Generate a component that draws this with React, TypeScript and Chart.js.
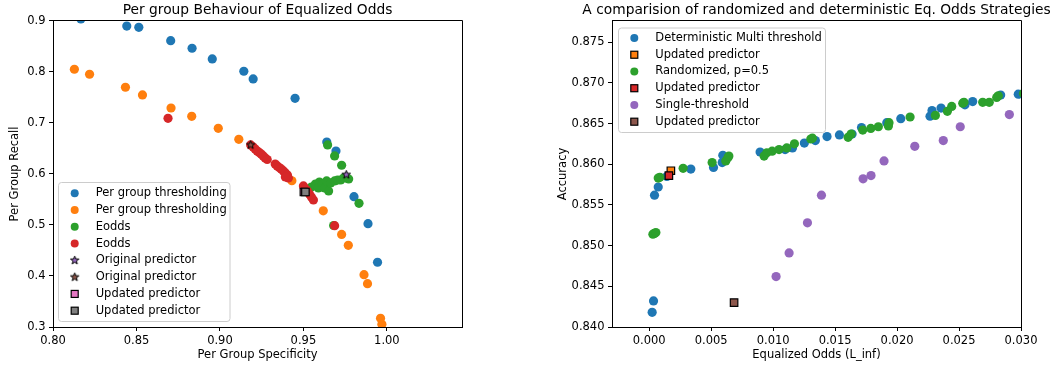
import React, { useEffect, useRef } from "react";
import { Chart, registerables } from "chart.js";

Chart.register(...registerables);

const FONT = "'DejaVu Sans', 'Liberation Sans', sans-serif";
const FS = 11.5;
const TITLE_FS = 13.8;

// ---------------- Left chart data ----------------
const leftTitle = "Per group Behaviour of Equalized Odds";
const leftXLabel = "Per Group Specificity";
const leftYLabel = "Per Group Recall";
const leftXTicks = [0.8, 0.85, 0.9, 0.95, 1.0];
const leftYTicks = [0.3, 0.4, 0.5, 0.6, 0.7, 0.8, 0.9];
const leftLabels = [
  "Per group thresholding",
  "Per group thresholding",
  "Eodds",
  "Eodds",
  "Original predictor",
  "Original predictor",
  "Updated predictor",
  "Updated predictor",
];

const thresh0Spec = [0.8167, 0.8442, 0.8514, 0.8705, 0.8833, 0.8954, 0.9143, 0.9199, 0.945, 0.964, 0.9695, 0.9803, 0.9887, 0.9944];
const thresh0Recall = [0.904, 0.89, 0.8876, 0.8614, 0.8465, 0.8255, 0.8014, 0.7863, 0.7484, 0.6627, 0.6451, 0.5555, 0.5025, 0.4269];

const thresh1Spec = [0.8128, 0.8219, 0.8434, 0.8536, 0.8707, 0.8831, 0.899, 0.9113, 0.9431, 0.9619, 0.9729, 0.9769, 0.9863, 0.9884, 0.9962, 0.997];
const thresh1Recall = [0.8053, 0.7955, 0.77, 0.7549, 0.7294, 0.7131, 0.6896, 0.668, 0.5867, 0.5278, 0.4814, 0.4602, 0.4025, 0.3849, 0.3171, 0.3053];

const eodds0Spec = [0.9645, 0.9687, 0.9729, 0.9833, 0.9681, 0.953, 0.9548, 0.9572, 0.959, 0.9596, 0.9614, 0.9627, 0.9639, 0.9651, 0.9663, 0.9687, 0.9705, 0.9723, 0.9741, 0.9759, 0.9771];
const eodds0Recall = [0.6569, 0.6353, 0.6171, 0.5425, 0.499, 0.5706, 0.5745, 0.5804, 0.5725, 0.5843, 0.5804, 0.5725, 0.5863, 0.5667, 0.5824, 0.5863, 0.5882, 0.5882, 0.5922, 0.5922, 0.5902];

const eodds1Spec = [0.8689, 0.9687, 0.9184, 0.9199, 0.9211, 0.9223, 0.9235, 0.9247, 0.9259, 0.9271, 0.9283, 0.9331, 0.9343, 0.9355, 0.9367, 0.938, 0.9392, 0.9404, 0.941, 0.9392, 0.95, 0.9512, 0.9524, 0.9536, 0.9548, 0.956];
const eodds1Recall = [0.7092, 0.4986, 0.6569, 0.6529, 0.649, 0.6451, 0.6422, 0.6392, 0.6353, 0.6314, 0.6284, 0.6196, 0.6157, 0.6127, 0.6098, 0.6059, 0.602, 0.598, 0.5922, 0.5941, 0.5765, 0.5706, 0.5667, 0.5608, 0.5549, 0.549];

const orig0Spec = [0.9757];
const orig0Recall = [0.5986];
const orig1Spec = [0.9184];
const orig1Recall = [0.6569];
const upd0Spec = [0.9503];
const upd0Recall = [0.5647];
const upd1Spec = [0.9512];
const upd1Recall = [0.5647];

// ---------------- Right chart data ----------------
const rightTitle = "A comparision of randomized and deterministic Eq. Odds Strategies";
const rightXLabel = "Equalized Odds (L_inf)";
const rightYLabel = "Accuracy";
const rightXTicks = [0.0, 0.005, 0.01, 0.015, 0.02, 0.025, 0.03];
const rightYTicks = [0.84, 0.845, 0.85, 0.855, 0.86, 0.865, 0.87, 0.875];
const rightLabels = [
  "Deterministic Multi threshold",
  "Updated predictor",
  "Randomized, p=0.5",
  "Updated predictor",
  "Single-threshold",
  "Updated predictor",
];

const detOdds = [0.00024, 0.00035, 0.00043, 0.00073, 0.00143, 0.00336, 0.00519, 0.00589, 0.00594, 0.00895, 0.01097, 0.01156, 0.01252, 0.01341, 0.01435, 0.01535, 0.01637, 0.01713, 0.01917, 0.0203, 0.02266, 0.02282, 0.02355, 0.02548, 0.0261, 0.02836, 0.02978];
const detAcc = [0.8418, 0.8432, 0.8562, 0.8572, 0.8585, 0.8594, 0.8596, 0.8602, 0.8611, 0.8615, 0.8618, 0.862, 0.8626, 0.8629, 0.8634, 0.8636, 0.8637, 0.8645, 0.8651, 0.8656, 0.8659, 0.8666, 0.8669, 0.8673, 0.8677, 0.8685, 0.8686];

const detUpdOdds = [0.00175];
const detUpdAcc = [0.8592];

const randOdds = [0.0003, 0.00043, 0.00054, 0.00073, 0.00086, 0.00274, 0.00508, 0.00618, 0.00635, 0.00643, 0.00927, 0.00949, 0.00992, 0.01048, 0.0111, 0.01172, 0.01304, 0.01317, 0.01605, 0.01629, 0.01723, 0.01788, 0.01849, 0.0193, 0.01935, 0.02105, 0.02309, 0.02406, 0.02441, 0.0253, 0.0254, 0.02691, 0.02744, 0.02804, 0.02817, 0.0302];
const randAcc = [0.8514, 0.8515, 0.8516, 0.8583, 0.8584, 0.8595, 0.8602, 0.8604, 0.8608, 0.861, 0.861, 0.8614, 0.8616, 0.8618, 0.862, 0.8625, 0.8631, 0.8632, 0.8633, 0.8637, 0.8642, 0.8644, 0.8646, 0.8647, 0.8651, 0.8658, 0.866, 0.8665, 0.8671, 0.8675, 0.8676, 0.8676, 0.8676, 0.8682, 0.8684, 0.8687];

const randUpdOdds = [0.00159];
const randUpdAcc = [0.8586];

const singleOdds = [0.01024, 0.01129, 0.01277, 0.0139, 0.01726, 0.0179, 0.01895, 0.02143, 0.02373, 0.0251, 0.02906];
const singleAcc = [0.8462, 0.8491, 0.8528, 0.8562, 0.8582, 0.8586, 0.8604, 0.8622, 0.8629, 0.8646, 0.8661];

const singleUpdOdds = [0.00685];
const singleUpdAcc = [0.843];

// ---------------- styling helpers ----------------
const C = {
  blue: "#1f77b4",
  orange: "#ff7f0e",
  green: "#2ca02c",
  red: "#d62728",
  purple: "#9467bd",
  brown: "#8c564b",
  pink: "#e377c2",
  gray: "#7f7f7f",
};

function makeStar(fill: string): HTMLCanvasElement {
  const c = document.createElement("canvas");
  c.width = 11;
  c.height = 11;
  const g = c.getContext("2d")!;
  const cx = 5.5, cy = 5.5, R = 4.4, r = 1.8;
  g.beginPath();
  for (let k = 0; k < 10; k++) {
    const rad = k % 2 === 0 ? R : r;
    const a = -Math.PI / 2 + (k * Math.PI) / 5;
    const px = cx + rad * Math.cos(a);
    const py = cy + rad * Math.sin(a);
    if (k === 0) g.moveTo(px, py);
    else g.lineTo(px, py);
  }
  g.closePath();
  g.fillStyle = fill;
  g.fill();
  g.lineWidth = 1;
  g.strokeStyle = "#000";
  g.stroke();
  return c;
}

const pts = (xs: number[], ys: number[]) => xs.map((x, i) => ({ x, y: ys[i] }));

function circleSet(label: string, xs: number[], ys: number[], color: string) {
  return {
    label,
    data: pts(xs, ys),
    pointStyle: "circle",
    pointRadius: 4.6,
    pointHoverRadius: 4.6,
    pointBackgroundColor: color,
    pointBorderWidth: 0,
    backgroundColor: color,
    borderWidth: 0,
    clip: 0,
  };
}

function squareSet(label: string, xs: number[], ys: number[], color: string) {
  return {
    label,
    data: pts(xs, ys),
    pointStyle: "rect",
    pointRadius: 5.3,
    pointHoverRadius: 5.3,
    pointBackgroundColor: color,
    pointBorderColor: "#000",
    pointBorderWidth: 1.2,
    backgroundColor: color,
    borderColor: "#000",
    clip: 0,
  };
}

function starSet(label: string, xs: number[], ys: number[], color: string, img: HTMLCanvasElement) {
  return {
    label,
    data: pts(xs, ys),
    pointStyle: img,
    pointRadius: 4,
    pointHoverRadius: 4,
    pointBackgroundColor: color,
    backgroundColor: color,
    clip: 0,
  };
}

function drawLegendMarker(ctx: CanvasRenderingContext2D, ds: any, x: number, y: number) {
  const st = ds.pointStyle;
  if (st && typeof st === "object") {
    ctx.drawImage(st, x - st.width / 2, y - st.height / 2);
    return;
  }
  if (st === "rect") {
    const s = 7;
    ctx.fillStyle = ds.pointBackgroundColor;
    ctx.fillRect(x - s / 2, y - s / 2, s, s);
    ctx.lineWidth = 1.2;
    ctx.strokeStyle = "#000";
    ctx.strokeRect(x - s / 2, y - s / 2, s, s);
    return;
  }
  ctx.beginPath();
  ctx.arc(x, y, 4, 0, Math.PI * 2);
  ctx.fillStyle = ds.pointBackgroundColor;
  ctx.fill();
}

const spinesPlugin = {
  id: "spines",
  afterDatasetsDraw(chart: any) {
    const { ctx, chartArea } = chart;
    const { left, right, top, bottom } = chartArea;
    ctx.save();
    ctx.strokeStyle = "#000";
    ctx.lineWidth = 1;
    const x0 = Math.round(left - 0.5) + 0.5;
    const x1 = Math.round(right - 0.5) + 0.5;
    const y0 = Math.round(top - 0.5) + 0.5;
    const y1 = Math.round(bottom - 0.5) + 0.5;
    ctx.beginPath();
    ctx.moveTo(x0, y0);
    ctx.lineTo(x1, y0);
    ctx.lineTo(x1, y1);
    ctx.lineTo(x0, y1);
    ctx.closePath();
    ctx.stroke();
    ctx.restore();
  },
};

const boxLegendPlugin = {
  id: "boxLegend",
  afterDatasetsDraw(chart: any, _args: any, opts: any) {
    if (!opts || opts.x === undefined) return;
    const ctx: CanvasRenderingContext2D = chart.ctx;
    ctx.save();
    const { x, y, w, h, r } = opts;
    ctx.beginPath();
    ctx.moveTo(x + r, y);
    ctx.lineTo(x + w - r, y);
    ctx.arcTo(x + w, y, x + w, y + r, r);
    ctx.lineTo(x + w, y + h - r);
    ctx.arcTo(x + w, y + h, x + w - r, y + h, r);
    ctx.lineTo(x + r, y + h);
    ctx.arcTo(x, y + h, x, y + h - r, r);
    ctx.lineTo(x, y + r);
    ctx.arcTo(x, y, x + r, y, r);
    ctx.closePath();
    ctx.fillStyle = "rgba(255,255,255,0.8)";
    ctx.fill();
    ctx.strokeStyle = "#cccccc";
    ctx.lineWidth = 1;
    ctx.stroke();
    ctx.font = `${FS}px ${FONT}`;
    ctx.textBaseline = "middle";
    ctx.textAlign = "left";
    chart.data.datasets.forEach((ds: any, i: number) => {
      const ry = opts.firstRow + i * opts.rowStep;
      drawLegendMarker(ctx, ds, opts.markerX, ry);
      ctx.fillStyle = "#000";
      ctx.fillText(ds.label, opts.textX, ry);
    });
    ctx.restore();
  },
};

function scales(o: {
  xMin: number; xMax: number; yMin: number; yMax: number;
  xTicks: number[]; yTicks: number[]; xDec: number; yDec: number;
  xLabel: string; yLabel: string; yWidth: number; yTitlePad: number; rightWidth: number;
}) {
  const tickFont = { size: FS, family: FONT };
  const grid = { drawOnChartArea: false, drawTicks: true, tickLength: 4, tickColor: "#000", color: "#000", lineWidth: 1 };
  const border = { display: true, color: "#000", width: 1 };
  return {
    x: {
      type: "linear" as const,
      min: o.xMin,
      max: o.xMax,
      afterBuildTicks: (a: any) => { a.ticks = o.xTicks.map((v) => ({ value: v })); },
      afterFit: (s: any) => { s.height = 41; },
      ticks: { callback: (v: any) => Number(v).toFixed(o.xDec), font: tickFont, color: "#000", padding: 3, maxRotation: 0, autoSkip: false },
      grid,
      border,
      title: { display: true, text: o.xLabel, font: tickFont, color: "#000", padding: { top: 0, bottom: 6.1 } },
    },
    y: {
      type: "linear" as const,
      min: o.yMin,
      max: o.yMax,
      afterBuildTicks: (a: any) => { a.ticks = o.yTicks.map((v) => ({ value: v })); },
      afterFit: (s: any) => { s.width = o.yWidth; },
      ticks: { callback: (v: any) => Number(v).toFixed(o.yDec), font: tickFont, color: "#000", padding: 3.5, autoSkip: false },
      grid,
      border,
      title: { display: true, text: o.yLabel, font: tickFont, color: "#000", padding: { top: o.yTitlePad, bottom: 0 } },
    },
    // invisible spacer on the right so the full-width title centres over the plot
    spacer: {
      type: "linear" as const,
      position: "right" as const,
      display: true,
      afterFit: (s: any) => { s.width = o.rightWidth; },
      ticks: { display: false },
      grid: { display: false },
      border: { display: false },
      title: { display: false },
    },
  };
}

function titleOpts(text: string) {
  return {
    display: true,
    text,
    color: "#000",
    font: { size: TITLE_FS, family: FONT, weight: "normal" as const },
    padding: { top: 2.5, bottom: 1.9 },
    align: "center" as const,
  };
}

export default function App() {
  const leftRef = useRef<HTMLCanvasElement>(null);
  const rightRef = useRef<HTMLCanvasElement>(null);

  useEffect(() => {
    Chart.defaults.font.family = FONT;
    const starPurple = makeStar(C.purple);
    const starBrown = makeStar(C.brown);

    const leftSets: any[] = [
      circleSet(leftLabels[0], thresh0Spec, thresh0Recall, C.blue),
      circleSet(leftLabels[1], thresh1Spec, thresh1Recall, C.orange),
      circleSet(leftLabels[2], eodds0Spec, eodds0Recall, C.green),
      circleSet(leftLabels[3], eodds1Spec, eodds1Recall, C.red),
      starSet(leftLabels[4], orig0Spec, orig0Recall, C.purple, starPurple),
      starSet(leftLabels[5], orig1Spec, orig1Recall, C.brown, starBrown),
      squareSet(leftLabels[6], upd0Spec, upd0Recall, C.pink),
      squareSet(leftLabels[7], upd1Spec, upd1Recall, C.gray),
    ].map((d, i) => ({ ...d, order: -i }));

    const rightSets: any[] = [
      circleSet(rightLabels[0], detOdds, detAcc, C.blue),
      squareSet(rightLabels[1], detUpdOdds, detUpdAcc, C.orange),
      circleSet(rightLabels[2], randOdds, randAcc, C.green),
      squareSet(rightLabels[3], randUpdOdds, randUpdAcc, C.red),
      circleSet(rightLabels[4], singleOdds, singleAcc, C.purple),
      squareSet(rightLabels[5], singleUpdOdds, singleUpdAcc, C.brown),
    ].map((d, i) => ({ ...d, order: -i }));

    const left = new Chart(leftRef.current!, {
      type: "scatter",
      data: { datasets: leftSets },
      options: {
        responsive: false,
        maintainAspectRatio: false,
        animation: false,
        events: [],
        layout: { padding: 0 },
        scales: scales({
          xMin: 0.8, xMax: 1.045, yMin: 0.3, yMax: 0.9,
          xTicks: leftXTicks, yTicks: leftYTicks, xDec: 2, yDec: 1,
          xLabel: leftXLabel, yLabel: leftYLabel, yWidth: 53, yTitlePad: 8.1, rightWidth: 53,
        }),
        plugins: {
          legend: { display: false },
          tooltip: { enabled: false },
          title: titleOpts(leftTitle),
          boxLegend: { x: 58.5, y: 182.5, w: 171.5, h: 139, r: 3, firstRow: 193.3, rowStep: 16.77, markerX: 74.7, textX: 95.7 },
        } as any,
      },
      plugins: [spinesPlugin, boxLegendPlugin],
    } as any);

    const right = new Chart(rightRef.current!, {
      type: "scatter",
      data: { datasets: rightSets },
      options: {
        responsive: false,
        maintainAspectRatio: false,
        animation: false,
        events: [],
        layout: { padding: 0 },
        scales: scales({
          xMin: -0.003, xMax: 0.03, yMin: 0.84, yMax: 0.8776,
          xTicks: rightXTicks, yTicks: rightYTicks, xDec: 3, yDec: 3,
          xLabel: rightXLabel, yLabel: rightYLabel, yWidth: 92, yTitlePad: 36.1, rightWidth: 92,
        }),
        plugins: {
          legend: { display: false },
          tooltip: { enabled: false },
          title: titleOpts(rightTitle),
          boxLegend: { x: 98.5, y: 28, w: 207, h: 104.5, r: 3, firstRow: 38, rowStep: 16.74, markerX: 114.3, textX: 135.3 },
        } as any,
      },
      plugins: [spinesPlugin, boxLegendPlugin],
    } as any);

    return () => {
      left.destroy();
      right.destroy();
    };
  }, []);

  return (
    <div style={{ position: "absolute", left: 0, top: 0, width: 1054, height: 368, overflow: "hidden", background: "#fff" }}>
      <canvas ref={leftRef} width={515} height={368} style={{ position: "absolute", left: 0, top: 0, width: 515, height: 368 }} />
      <canvas ref={rightRef} width={593} height={368} style={{ position: "absolute", left: 520, top: 0, width: 593, height: 368 }} />
    </div>
  );
}
